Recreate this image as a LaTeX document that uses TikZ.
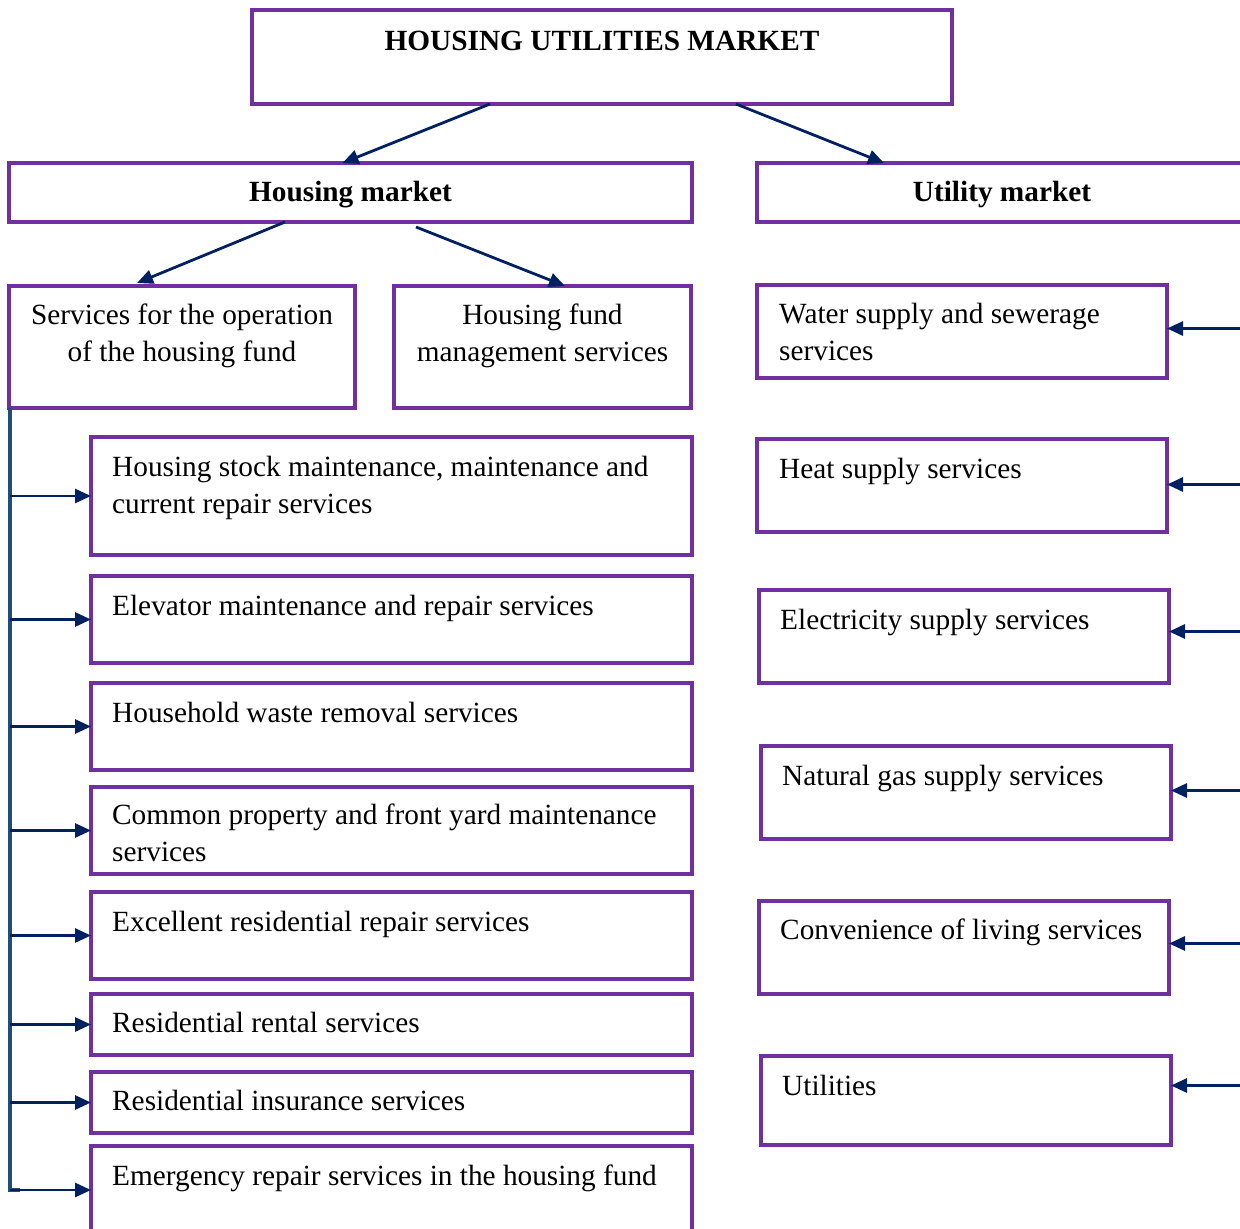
\documentclass[tikz,border=0pt]{standalone}
\usepackage{fontspec}
\setmainfont{Liberation Serif}
\usetikzlibrary{arrows.meta,calc}
\definecolor{boxpurple}{HTML}{7030A0}
\definecolor{navyblue}{HTML}{002060}
\definecolor{trunkblue}{HTML}{1F4E79}
\begin{document}
\begin{tikzpicture}[x=1pt,y=-1pt,
  box/.style={draw=boxpurple, line width=3.2pt, rectangle, inner sep=0pt, outer sep=0pt, anchor=north west},
  txt/.style={font=\fontsize{29.3}{37}\selectfont, inner sep=0pt, anchor=base west, align=left},
  ctxt/.style={font=\fontsize{29.3}{37}\selectfont, inner sep=0pt, anchor=base, align=center},
  arr/.style={draw=navyblue, line width=2.8pt, -{Triangle[length=16pt,width=14pt]}},
  vline/.style={draw=trunkblue, line width=3.2pt}]
\useasboundingbox (0,0) rectangle (1240,1229);
\clip (0,0) rectangle (1240,1229);
% boxes
\node[box, minimum width=700, minimum height=94] (top) at (252,10) {};
\node[box, minimum width=683, minimum height=59] (hm) at (9,163) {};
\node[box, minimum width=500, minimum height=59] (um) at (757,163) {};
\node[box, minimum width=346, minimum height=122] (sv) at (9,286) {};
\node[box, minimum width=297, minimum height=122] (hf) at (394,286) {};
\node[box, minimum width=601, minimum height=118] (b1) at (91,437) {};
\node[box, minimum width=601, minimum height=87] (b2) at (91,576) {};
\node[box, minimum width=601, minimum height=87] (b3) at (91,683) {};
\node[box, minimum width=601, minimum height=87] (b4) at (91,787) {};
\node[box, minimum width=601, minimum height=87] (b5) at (91,892) {};
\node[box, minimum width=601, minimum height=61] (b6) at (91,994) {};
\node[box, minimum width=601, minimum height=61] (b7) at (91,1072) {};
\node[box, minimum width=601, minimum height=120] (b8) at (91,1146) {};
\node[box, minimum width=410, minimum height=93] (r1) at (757,285) {};
\node[box, minimum width=410, minimum height=93] (r2) at (757,439) {};
\node[box, minimum width=410, minimum height=93] (r3) at (759,590) {};
\node[box, minimum width=410, minimum height=93] (r4) at (761,746) {};
\node[box, minimum width=410, minimum height=93] (r5) at (759,901) {};
\node[box, minimum width=410, minimum height=89] (r6) at (761,1056) {};
% texts (base anchor = baseline of last line)
\node[ctxt] (ttop) at ($(top.north)+(0,40)$) {\textbf{HOUSING UTILITIES MARKET}};
\node[ctxt] (thm) at ($(hm.north)+(0,38)$) {\textbf{Housing market}};
\node[ctxt] (tum) at ($(um.north west)+(245,38)$) {\textbf{Utility market}};
\node[ctxt] (tsv) at ($(sv.north)+(0,75)$) {Services for the operation\\of the housing fund};
\node[ctxt] (thf) at ($(hf.north)+(0,75)$) {Housing fund\\management services};
\node[txt] (tb1) at ($(b1.north west)+(21,76)$) {Housing stock maintenance, maintenance and\\current repair services};
\node[txt] (tb2) at ($(b2.north west)+(21,39)$) {Elevator maintenance and repair services};
\node[txt] (tb3) at ($(b3.north west)+(21,39)$) {Household waste removal services};
\node[txt] (tb4) at ($(b4.north west)+(21,74)$) {Common property and front yard maintenance\\services};
\node[txt] (tb5) at ($(b5.north west)+(21,39)$) {Excellent residential repair services};
\node[txt] (tb6) at ($(b6.north west)+(21,38)$) {Residential rental services};
\node[txt] (tb7) at ($(b7.north west)+(21,38)$) {Residential insurance services};
\node[txt] (tb8) at ($(b8.north west)+(21,39)$) {Emergency repair services in the housing fund};
\node[txt] (tr1) at ($(r1.north west)+(22,75)$) {Water supply and sewerage\\services};
\node[txt] (tr2) at ($(r2.north west)+(22,39)$) {Heat supply services};
\node[txt] (tr3) at ($(r3.north west)+(21,39)$) {Electricity supply services};
\node[txt] (tr4) at ($(r4.north west)+(21,39)$) {Natural gas supply services};
\node[txt] (tr5) at ($(r5.north west)+(21,38)$) {Convenience of living services};
\node[txt] (tr6) at ($(r6.north west)+(21,39)$) {Utilities};
% tree arrows
\draw[arr] ($(top.south west)+(238,0)$) -- ($(hm.north)+(-8,0)$);
\draw[arr] ($(top.south west)+(484,0)$) -- ($(um.north west)+(127,0)$);
\draw[arr] ($(hm.south west)+(276,0)$) -- ($(sv.north west)+(128,-3)$);
\draw[arr] ($(hm.south west)+(407,5)$) -- ($(hf.north west)+(171,0)$);
% left trunk
\coordinate (trunk) at (10,408);
\coordinate (trunkend) at (10,1190);
\draw[vline] (trunk) -- (trunkend) -- ++(10,0);
\foreach \b in {b1,b2,b3,b4,b5,b6,b7}
  \draw[arr] (trunk |- \b.west) -- (\b.west);
\draw[arr] (trunkend) -- (trunkend -| b8.west);
% right arrows
\coordinate (rim) at (1245,0);
\foreach \r/\dy in {r1/-3,r2/-1,r3/-5,r4/-2,r5/-4,r6/-15}
  \draw[arr] ($(rim |- \r.east)+(0,\dy)$) -- ($(\r.east)+(0,\dy)$);
\end{tikzpicture}
\end{document}
